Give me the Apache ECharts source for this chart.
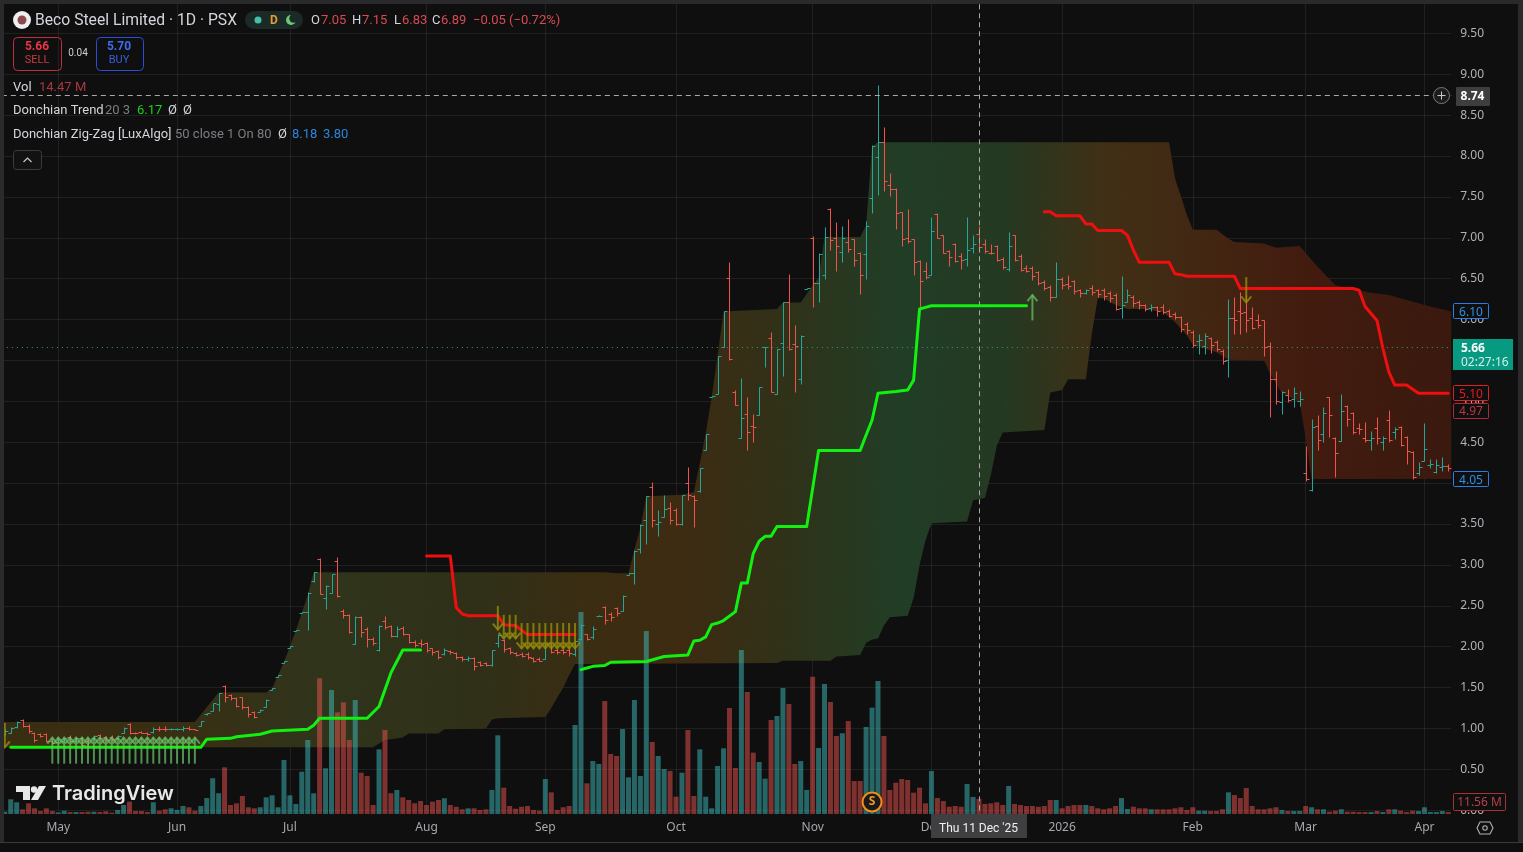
<!DOCTYPE html>
<html>
<head>
<meta charset="utf-8">
<title>Beco Steel Limited</title>
<style>
  html, body { margin: 0; padding: 0; background: #0f0f0f; }
  #chart { width: 1523px; height: 852px; }
</style>
<script src="https://cdn.jsdelivr.net/npm/echarts@6/dist/echarts.min.js"></script>
</head>
<body>
<div id="chart"></div>
<script>
// Daily OHLC of BECO (PSX), one entry per session.
const opens = [
  .93,.94,1.02,1.11,1.03,.94,.93,.93,.85,.83,
  .85,.90,.85,.88,.85,.88,.92,.90,.90,.88,
  .95,1.05,.95,.96,.95,.96,1.0,1.0,.99,.99,
  .99,1.01,.99,1.03,1.18,1.22,1.30,1.52,1.41,1.37,
  1.38,1.26,1.20,1.20,1.26,1.47,1.63,1.80,1.99,2.19,
  2.41,2.42,2.80,3.07,2.60,2.66,3.05,2.44,2.39,2.03,
  2.36,2.22,2.10,1.96,2.32,2.25,2.13,2.23,2.15,2.06,
  2.04,2.05,1.98,1.95,1.91,1.95,1.92,1.88,1.85,1.86,
  1.81,1.80,1.78,2.04,2.08,1.98,1.92,1.91,1.91,1.86,
  1.85,1.85,2.05,1.96,1.96,1.96,1.91,2.10,2.15,2.12,
  2.37,2.48,2.40,2.47,2.44,2.88,2.90,3.20,3.55,3.95,
  3.50,3.59,3.70,3.67,3.50,4.00,3.84,3.90,4.40,5.05,
  5.09,5.67,6.51,5.12,4.55,4.85,4.70,4.83,5.66,5.78,
  5.09,5.72,6.22,5.70,5.27,6.37,7.00,6.45,6.55,7.35,
  7.00,6.83,6.95,6.98,6.81,6.80,7.49,7.99,8.17,7.65,
  7.60,7.31,7.00,6.98,6.72,6.59,6.55,7.29,7.03,6.84,
  6.93,6.78,6.74,6.87,7.05,6.93,6.82,6.90,6.74,6.62,
  7.03,6.78,6.63,6.63,6.58,6.46,6.40,6.28,6.50,6.44,
  6.47,6.36,6.32,6.39,6.36,6.36,6.33,6.30,6.14,6.22,
  6.28,6.22,6.18,6.14,6.15,6.16,6.11,6.07,6.03,5.95,
  5.85,5.74,5.68,5.77,5.73,5.62,5.51,6.02,6.10,6.09,
  6.02,6.00,5.99,5.68,5.27,4.99,5.08,5.03,5.00,4.13,
  3.92,4.70,4.60,5.05,4.55,4.52,4.94,4.86,4.68,4.55,
  4.53,4.68,4.50,4.77,4.62,4.69,4.57,4.38,4.13,4.27,
  4.22,4.14,4.20,4.21
];
const highs = [
  1.0,1.02,1.09,1.12,1.05,.96,.94,.94,.86,.89,
  .89,.92,.89,.90,.87,.92,.93,.91,.92,.92,
  1.02,1.07,.96,.97,.96,1.02,1.03,1.03,1.01,1.01,
  1.03,1.03,1.0,1.09,1.19,1.31,1.44,1.53,1.42,1.38,
  1.39,1.27,1.22,1.24,1.36,1.50,1.65,1.83,2.01,2.21,
  2.43,2.67,2.92,3.08,2.75,2.89,3.10,2.46,2.40,2.37,
  2.37,2.24,2.12,2.26,2.38,2.27,2.25,2.25,2.16,2.08,
  2.09,2.06,1.99,1.96,1.98,1.96,1.93,1.89,1.89,1.87,
  1.82,1.81,1.96,2.16,2.10,2.00,1.93,1.93,1.93,1.87,
  1.87,2.04,2.06,1.99,1.98,1.98,2.08,2.28,2.16,2.25,
  2.39,2.50,2.42,2.48,2.63,2.90,3.18,3.50,3.84,4.02,
  3.67,3.85,3.77,3.70,3.86,4.20,3.85,4.18,4.60,5.07,
  5.56,6.11,6.70,5.14,5.29,5.05,4.85,5.18,5.67,5.85,
  5.64,6.22,6.56,5.93,5.81,6.39,7.02,6.81,7.13,7.36,
  7.19,7.15,7.23,6.99,6.83,7.21,8.13,8.87,8.36,7.79,
  7.61,7.32,7.35,6.99,6.73,6.70,7.25,7.30,7.04,6.85,
  6.94,6.81,7.25,7.04,7.15,6.98,6.93,6.91,6.76,7.07,
  7.04,6.80,6.67,6.65,6.60,6.48,6.42,6.71,6.52,6.55,
  6.49,6.38,6.38,6.42,6.38,6.39,6.35,6.32,6.53,6.37,
  6.30,6.24,6.19,6.19,6.17,6.19,6.13,6.09,6.05,5.97,
  5.87,5.83,5.84,5.79,5.75,5.64,6.25,6.28,6.34,6.30,
  6.16,6.07,6.00,5.73,5.37,5.13,5.15,5.18,5.13,4.45,
  4.79,4.83,4.93,5.05,4.56,5.09,4.96,4.87,4.74,4.75,
  4.64,4.81,4.58,4.89,4.69,4.70,4.58,4.39,4.26,4.73,
  4.30,4.30,4.32,4.24
];
const lows = [
  .92,.94,1.01,1.02,.94,.84,.90,.83,.81,.81,
  .83,.83,.83,.75,.76,.87,.88,.85,.85,.87,
  .94,.93,.93,.94,.92,.94,.97,.97,.98,.98,
  .97,.98,.98,1.03,1.17,1.22,1.22,1.32,1.35,1.26,
  1.24,1.14,1.13,1.20,1.26,1.47,1.63,1.80,1.99,2.19,
  2.41,2.20,2.79,2.65,2.46,2.66,2.61,2.35,2.17,2.03,
  2.12,2.00,2.02,1.95,2.22,2.12,2.12,2.14,2.04,2.00,
  2.00,1.93,1.90,1.85,1.90,1.91,1.85,1.83,1.83,1.72,
  1.76,1.77,1.77,2.00,1.93,1.91,1.89,1.87,1.85,1.81,
  1.82,1.85,1.92,1.91,1.91,1.89,1.89,2.08,2.08,2.10,
  2.37,2.28,2.32,2.38,2.44,2.88,2.77,3.15,3.26,3.46,
  3.36,3.59,3.50,3.49,3.49,3.79,3.47,3.89,4.40,5.05,
  5.09,5.67,5.51,4.95,4.55,4.40,4.50,4.83,5.42,5.12,
  5.09,5.31,5.63,5.12,5.21,6.37,6.15,6.22,6.50,6.85,
  6.60,6.71,6.83,6.65,6.31,6.50,7.30,7.52,7.57,7.51,
  7.11,6.90,6.94,6.55,6.15,6.50,6.55,7.00,6.81,6.65,
  6.71,6.62,6.66,6.81,6.83,6.81,6.80,6.72,6.62,6.60,
  6.72,6.59,6.58,6.49,6.42,6.36,6.23,6.28,6.38,6.38,
  6.31,6.28,6.31,6.30,6.28,6.24,6.22,6.12,6.02,6.22,
  6.15,6.13,6.10,6.11,6.05,6.07,6.03,6.01,5.85,5.83,
  5.67,5.58,5.58,5.59,5.62,5.46,5.30,5.82,5.82,5.85,
  5.88,5.90,5.56,4.81,4.97,4.85,4.99,4.93,4.94,4.03,
  3.91,4.41,4.50,4.57,4.08,4.52,4.70,4.60,4.60,4.50,
  4.41,4.48,4.41,4.50,4.54,4.46,4.24,4.05,4.10,4.27,
  4.19,4.12,4.15,4.15
];
const closes = [
  .97,1.01,1.08,1.03,.97,.86,.91,.85,.82,.87,
  .88,.85,.88,.80,.79,.91,.89,.86,.87,.91,
  1.01,.95,.94,.95,.93,1.00,.99,.99,1.00,1.00,
  1.01,.99,.985,1.09,1.19,1.31,1.43,1.38,1.37,1.28,
  1.26,1.18,1.14,1.23,1.35,1.50,1.65,1.83,2.01,2.21,
  2.43,2.66,2.92,2.65,2.74,2.89,2.62,2.39,2.18,2.36,
  2.18,2.10,2.05,2.25,2.24,2.13,2.22,2.16,2.06,2.02,
  2.03,1.96,1.93,1.88,1.96,1.93,1.87,1.85,1.86,1.76,
  1.78,1.78,1.96,2.14,1.97,1.93,1.90,1.89,1.87,1.83,
  1.83,2.03,1.93,1.93,1.93,1.92,2.07,2.27,2.10,2.22,
  2.38,2.33,2.36,2.41,2.62,2.90,3.17,3.49,3.84,3.55,
  3.53,3.69,3.55,3.50,3.85,3.85,3.79,4.18,4.60,5.07,
  5.56,6.11,5.52,4.96,4.80,4.62,4.69,5.17,5.67,5.12,
  5.64,6.21,5.64,5.68,5.80,6.39,6.45,6.80,7.01,6.97,
  6.90,7.00,6.86,6.73,6.55,7.14,8.12,8.17,7.69,7.60,
  7.30,6.98,6.96,6.70,6.47,6.52,7.08,7.00,6.82,6.76,
  6.72,6.73,6.85,6.93,6.89,6.84,6.81,6.73,6.64,6.90,
  6.73,6.61,6.59,6.53,6.45,6.39,6.28,6.50,6.42,6.41,
  6.35,6.33,6.36,6.34,6.31,6.29,6.27,6.13,6.18,6.30,
  6.20,6.18,6.13,6.16,6.10,6.09,6.05,6.03,5.88,5.87,
  5.69,5.75,5.80,5.69,5.64,5.49,6.02,6.00,6.08,6.00,
  5.90,5.93,5.67,5.27,5.01,5.12,5.02,5.10,5.03,4.05,
  4.69,4.53,4.86,4.83,4.37,4.88,4.79,4.63,4.66,4.53,
  4.55,4.55,4.55,4.53,4.66,4.47,4.39,4.07,4.20,4.42,
  4.24,4.22,4.21,4.19
];
// Session volume, millions of shares.
const volumes = [
  2.2,14.2,11.3,4.5,10.3,5.5,2.9,5.5,2.9,1.6,
  3.2,1.9,1.9,1.9,2.2,2.2,1.9,2.6,1.3,3.9,
  8.7,11.9,2.9,2.9,1.9,11.3,3.2,4.5,5.5,3.9,
  7.7,6.5,3.2,7.7,15.4,34.5,20,45,8.7,10.3,
  17.4,6.5,5.5,6.5,16.1,18,6.5,52.1,18,9.7,
  40.8,71.4,20,131,44.1,119.7,98.1,107.8,71.4,110,
  39.9,36.7,8.7,62.4,81.1,20,23.2,16.1,13.5,10.3,
  12.5,8.7,11.9,13.5,15.2,8.7,7,4.5,5.5,5.5,
  3.9,4.5,23.2,75.9,25.4,7.7,5.1,7,7.7,3.9,
  3.2,33.8,20.9,3.9,6.5,7.7,85.9,194.9,29.6,51.1,
  48.3,109,57.9,56,82,35.4,110,36.7,176.6,69.5,
  56,43.4,41.5,16.7,39.9,81.1,17.4,62.4,16.7,5.5,
  46.3,63.4,102.3,44.4,158.3,117.7,59.2,50.2,34.1,90.7,
  94.6,121.6,106.2,48.3,51.1,23.2,132.5,63.7,125.5,108.1,
  75.3,77.9,89.7,31.8,31.8,84,102.6,128.3,75.3,23.2,
  30.2,33.8,32.8,20.6,25.4,10.3,41.5,15.4,12.5,7,
  7.7,7,29,16.4,14.47,9.7,10.3,11.3,8.7,27,
  9.7,8.7,7.7,7.7,7,7.7,13.5,13.5,5.5,7.7,
  8.7,8.7,8.7,7.7,5.5,4.5,5.5,7.7,15.4,4.8,
  7,5.5,5.5,4.5,4.5,4.5,4.5,5.5,6.5,3.9,
  6.5,3.2,3.2,2.9,2.9,4.5,20.9,18.3,15.4,25.1,
  7.7,4.5,4.5,5.5,6.5,3.9,2.9,2.9,2.9,7.7,
  6.5,4.5,4.5,2.2,3.2,4.5,2.2,2.2,1.9,1.9,
  1.9,2.9,1.9,4.5,4.5,3.2,1.9,3.2,2.9,6.5,
  1.9,1.9,2.9,1.9
];

// Month ticks on the session axis.
const monthTickBars = [9, 29, 48, 71, 91, 113, 136, 156, 178, 200, 219, 239];
const monthTickLabels = ['May','Jun','Jul','Aug','Sep','Oct','Nov','Dec','2026','Feb','Mar','Apr'];

// Donchian zig-zag channel edges, [session, price] at each change of slope.
const channelUpper = [
  [0,1.08],[32,1.08],[34,1.26],[36,1.44],[44,1.44],[45,1.49],[47,1.81],[49,2.20],[51,2.63],[52,2.91],
  [101,2.91],[103,2.90],[105,2.90],[106,3.19],[107,3.45],[108,3.84],[114,3.86],[116,3.89],[117,4.24],
  [118,4.61],[119,5.05],[120,5.56],[121,6.10],[130,6.13],[131,6.21],[134,6.21],[136,6.42],[137,6.51],
  [138,7.01],[144,7.01],[145,7.15],[146,8.11],[147,8.17],[196,8.17],[197,7.73],[198,7.51],[199,7.28],
  [200,7.10],[204,7.10],[206,6.99],[207,6.95],[212,6.93],[214,6.88],[218,6.90],[220,6.73],[222,6.57],
  [224,6.42],[230,6.33],[233,6.30],[239,6.18],[243,6.10]
];
const channelLower = [
  [0,0.77],[62,0.77],[64,0.86],[67,0.89],[68,0.94],[73,0.94],[74,0.99],[81,1.00],[82,1.11],[83,1.125],
  [91,1.14],[92,1.25],[93,1.38],[94,1.50],[95,1.65],[96,1.79],[130,1.80],[131,1.83],[139,1.83],[140,1.88],
  [144,1.90],[145,2.05],[146,2.09],[147,2.10],[148,2.26],[149,2.36],[152,2.38],[153,2.60],[154,3.00],
  [155,3.30],[156,3.51],[162,3.53],[163,3.79],[165,3.82],[166,4.10],[167,4.46],[168,4.62],[175,4.65],
  [176,5.11],[178,5.14],[179,5.27],[182,5.27],[183,5.83],[184,6.26],[185,6.26],[187,6.18],[189,6.13],
  [192,6.13],[195,6.09],[197,5.97],[199,5.81],[200,5.69],[204,5.60],[206,5.51],[212,5.50],[213,5.34],
  [215,5.10],[218,4.99],[219,4.56],[220,4.05],[243,4.05]
];

// Donchian Trend stop line: two rising legs, two falling legs.
const trendUpFirst = [
  [1,.77],[33,.77],[34,.87],[38,.88],[39,.90],[43,.93],[45,.97],[51,.99],[52,1.04],[53,1.125],
  [61,1.125],[63,1.27],[65,1.68],[67,1.96],[70,1.96]
];
const trendUpSecond = [
  [97,1.72],[98,1.74],[99,1.76],[101,1.77],[102,1.81],[108,1.82],[111,1.88],[115,1.90],[116,2.07],
  [117,2.08],[118,2.12],[119,2.27],[120,2.29],[121,2.32],[123,2.43],[124,2.78],[125,2.78],[126,3.14],
  [127,3.29],[128,3.35],[129,3.35],[130,3.47],[135,3.47],[137,4.40],[144,4.40],[145,4.59],[146,4.77],
  [147,5.10],[150,5.12],[152,5.14],[153,5.26],[154,6.13],[155,6.15],[156,6.17],[172,6.17]
];
const trendDownFirst = [
  [71,3.11],[75,3.11],[76,2.48],[77,2.40],[78,2.38],[83,2.38],[84,2.27],[86,2.26],[87,2.20],[88,2.15],[96,2.15]
];
const trendDownSecond = [
  [175,7.32],[176,7.32],[177,7.27],[181,7.27],[182,7.17],[183,7.17],[184,7.09],[188,7.09],[189,7.03],
  [190,6.85],[191,6.70],[196,6.70],[197,6.56],[198,6.55],[199,6.53],[207,6.53],[208,6.38],[227,6.38],
  [228,6.36],[229,6.16],[231,5.99],[232,5.65],[233,5.36],[234,5.20],[236,5.20],[238,5.10],[243,5.10]
];

// Signal arrows: [session, tail price, tip price].
const buyArrows = [
  [8,.57,.89],[9,.57,.89],[10,.57,.89],[11,.57,.89],[12,.57,.89],[13,.57,.89],[14,.57,.89],[15,.57,.89],
  [16,.57,.89],[17,.57,.89],[18,.57,.89],[19,.57,.89],[20,.57,.89],[21,.57,.89],[22,.57,.89],[23,.57,.89],
  [24,.57,.89],[25,.57,.89],[26,.57,.89],[27,.57,.89],[28,.57,.89],[29,.57,.89],[30,.57,.89],[31,.57,.89],
  [32,.57,.89],[173,5.99,6.30]
];
const sellArrows = [
  [0,1.07,.77],[83,2.50,2.21],[84,2.39,2.10],[85,2.39,2.10],[86,2.39,2.10],[87,2.29,1.98],[88,2.29,1.98],
  [89,2.29,1.98],[90,2.29,1.98],[91,2.29,1.98],[92,2.29,1.98],[93,2.29,1.98],[94,2.29,1.98],[95,2.29,1.98],
  [96,2.29,1.98],[209,6.52,6.21]
];

// Levels shown on the price scale.
const channelTopLevel = 6.10;
const channelBottomLevel = 4.05;
const trendLevel = 5.10;
const stopLevel = 4.97;
const sellPrice = 5.66;
const crosshairPrice = 8.74;
const crosshairBar = 164;
const lastVolume = 11.56;
const splitBar = 146;

const BAR_UP = '#26a69a';
const BAR_DOWN = '#ef5350';
const FONT = '"Noto Sans", sans-serif';
const LEGEND_FONT = 'Roboto, sans-serif';
const PANEL = '#0f0f0f';

const categories = opens.map((_, i) => {
  const at = monthTickBars.indexOf(i);
  return at >= 0 ? monthTickLabels[at] : '';
});
const isMonthTick = (index) => monthTickBars.indexOf(index) >= 0;

const chart = echarts.init(document.getElementById('chart'), null, { renderer: 'canvas' });

// The channel is one polygon whose fill shifts colour along the time axis.
const channelFill = new echarts.graphic.LinearGradient(0, 0, 1452, 0, [
  { offset: 0.03, color: '#3d3012' }, { offset: 0.14, color: '#3a3214' },
  { offset: 0.22, color: '#32371c' }, { offset: 0.33, color: '#323219' },
  { offset: 0.41, color: '#3e2f12' }, { offset: 0.47, color: '#412d12' },
  { offset: 0.54, color: '#323419' }, { offset: 0.62, color: '#234128' },
  { offset: 0.69, color: '#263c23' }, { offset: 0.76, color: '#443216' },
  { offset: 0.83, color: '#462812' }, { offset: 0.90, color: '#461c0f' },
  { offset: 1, color: '#3e1a0e' }
], true);

function renderChannel(params, api) {
  if (params.dataIndex !== 0) return null;
  const halfBar = api.size([1, 0])[0] / 2;
  const top = channelUpper.map(p => api.coord(p));
  const bottom = channelLower.map(p => api.coord(p)).reverse();
  top[0][0] -= halfBar;
  top[top.length - 1][0] += halfBar;
  bottom[0][0] += halfBar;
  bottom[bottom.length - 1][0] -= halfBar;
  return {
    type: 'polygon',
    shape: { points: top.concat(bottom) },
    style: { fill: channelFill, opacity: 0.93 }
  };
}

function renderOhlc(params, api) {
  const i = params.dataIndex;
  const open = api.value(1), high = api.value(2), low = api.value(3), close = api.value(4);
  const x = Math.round(api.coord([i, open])[0]) + 0.5;
  const color = close >= open ? BAR_UP : BAR_DOWN;
  const y = v => Math.round(api.coord([i, v])[1]) + 0.5;
  const stroke = { stroke: color, lineWidth: 1 };
  return {
    type: 'group',
    children: [
      { type: 'line', shape: { x1: x, y1: y(high), x2: x, y2: y(low) }, style: stroke },
      { type: 'line', shape: { x1: x - 3, y1: y(open), x2: x, y2: y(open) }, style: stroke },
      { type: 'line', shape: { x1: x, y1: y(close), x2: x + 3, y2: y(close) }, style: stroke }
    ]
  };
}

function arrowRenderer(color) {
  return function (params, api) {
    const i = api.value(0);
    const tail = api.coord([i, api.value(1)]);
    const tip = api.coord([i, api.value(2)]);
    const dir = tip[1] < tail[1] ? 1 : -1;
    const stroke = { stroke: color, lineWidth: 2, fill: 'none' };
    return {
      type: 'group',
      children: [
        { type: 'line', shape: { x1: tip[0], y1: tail[1], x2: tip[0], y2: tip[1] }, style: stroke },
        { type: 'polyline', shape: { points: [[tip[0] - 5, tip[1] + dir * 6], [tip[0], tip[1]], [tip[0] + 5, tip[1] + dir * 6]] }, style: stroke }
      ]
    };
  };
}

// Boxed tags to the right of the plot, anchored on the price scale.
const levelTags = [
  { value: channelTopLevel, fill: PANEL, border: '#2a7de1', color: '#2f8fe8', shift: 0 },
  { value: channelBottomLevel, fill: PANEL, border: '#2a7de1', color: '#2f8fe8', shift: 0 },
  { value: trendLevel, fill: PANEL, border: '#e02020', color: '#f01818', shift: 0 },
  { value: stopLevel, fill: PANEL, border: '#b02a35', color: '#b83840', shift: 7 }
];
function renderLevelTag(params, api) {
  const tag = levelTags[params.dataIndex];
  const p = api.coord([243, tag.value]);
  const cy = p[1] + tag.shift;
  return {
    type: 'group',
    children: [
      { type: 'rect', shape: { x: 1453.5, y: Math.round(cy - 8) + .5, width: 35, height: 15, r: 1 },
        style: { fill: tag.fill, stroke: tag.border, lineWidth: 1 } },
      { type: 'text', x: 1471, y: cy + 1, style: { text: tag.value.toFixed(2), fill: tag.color,
        font: '12px ' + FONT, textAlign: 'center', textVerticalAlign: 'middle' } }
    ]
  };
}
function renderSellTag(params, api) {
  const cy = api.coord([243, sellPrice])[1];
  return {
    type: 'group',
    children: [
      { type: 'rect', shape: { x: 1453, y: Math.round(cy) - 8, width: 60, height: 31 }, style: { fill: '#089981' } },
      { type: 'text', x: 1461, y: cy + 1, style: { text: sellPrice.toFixed(2), fill: '#ffffff',
        font: '700 12px ' + FONT, textVerticalAlign: 'middle' } },
      { type: 'text', x: 1461, y: cy + 15, style: { text: '02:27:16', fill: '#d4efe9',
        font: '12px ' + FONT, textVerticalAlign: 'middle' } }
    ]
  };
}
function renderCrosshairTag(params, api) {
  const cy = api.coord([243, crosshairPrice])[1];
  return {
    type: 'group',
    children: [
      { type: 'circle', shape: { cx: 1441.5, cy: cy, r: 8 }, style: { fill: '#1c1c1c', stroke: '#7a7a7a', lineWidth: 1 } },
      { type: 'line', shape: { x1: 1437.5, y1: cy, x2: 1445.5, y2: cy }, style: { stroke: '#cfcfcf', lineWidth: 1 } },
      { type: 'line', shape: { x1: 1441.5, y1: cy - 4, x2: 1441.5, y2: cy + 4 }, style: { stroke: '#cfcfcf', lineWidth: 1 } },
      { type: 'rect', shape: { x: 1456, y: Math.round(cy) - 9, width: 34, height: 19, r: 1 }, style: { fill: '#3e3e3e' } },
      { type: 'text', x: 1472.5, y: cy + 1, style: { text: crosshairPrice.toFixed(2), fill: '#ffffff',
        font: '700 12px ' + FONT, textAlign: 'center', textVerticalAlign: 'middle' } }
    ]
  };
}
function renderVolumeTag(params, api) {
  const cy = api.coord([243, lastVolume])[1];
  return {
    type: 'group',
    children: [
      { type: 'rect', shape: { x: 1453.5, y: Math.round(cy) - 8.5, width: 52, height: 17, r: 1 },
        style: { fill: PANEL, stroke: '#a83238', lineWidth: 1 } },
      { type: 'text', x: 1479.5, y: cy + 1, style: { text: lastVolume.toFixed(2) + ' M', fill: '#b8404a',
        font: '12px ' + FONT, textAlign: 'center', textVerticalAlign: 'middle' } }
    ]
  };
}
function renderSplitMark(params, api) {
  const p = api.coord([api.value(0), api.value(1)]);
  return {
    type: 'group',
    children: [
      { type: 'circle', shape: { cx: p[0], cy: p[1], r: 9.5 }, style: { fill: '#1a1a1a', stroke: '#ef8f17', lineWidth: 2 } },
      { type: 'text', x: p[0], y: p[1], style: { text: 'S', fill: '#ef9a20', font: '700 12px ' + FONT,
        textAlign: 'center', textVerticalAlign: 'middle' } }
    ]
  };
}

const trendLine = (name, data, color) => ({
  name, type: 'line', data, xAxisIndex: 0, yAxisIndex: 0, z: 6,
  showSymbol: false, silent: true,
  lineStyle: { color, width: 3, cap: 'round', join: 'round' }
});

const txt = (x, y, text, fill, font, align) => ({
  type: 'text', x, y, z: 100, silent: true,
  style: { text, fill, font: font || ('13px ' + LEGEND_FONT), textAlign: align || 'left', textVerticalAlign: 'middle' }
});
const box = (x, y, w, h, r, stroke, fill) => ({
  type: 'rect', z: 100, silent: true,
  shape: { x: x + .5, y: y + .5, width: w, height: h, r },
  style: { fill: fill || 'none', stroke: stroke, lineWidth: 1 }
});
const block = (x, y, w, h, fill) => ({
  type: 'rect', z: 99, silent: true, shape: { x, y, width: w, height: h }, style: { fill }
});

const overlay = [
  // Window frame
  block(0, 0, 1523, 4, '#2a2a2c'), block(0, 0, 4, 842, '#2a2a2c'), block(1518, 0, 5, 842, '#2a2a2c'),
  block(0, 842, 1523, 1, '#3a3a3c'),
  // Symbol header
  { type: 'circle', z: 100, silent: true, shape: { cx: 22, cy: 20, r: 9 }, style: { fill: '#f0eeee' } },
  { type: 'circle', z: 101, silent: true, shape: { cx: 22, cy: 20, r: 4.5 }, style: { fill: '#8a4a50' } },
  txt(35, 21, 'Beco Steel Limited · 1D · PSX', '#d4d6dc', '15.7px ' + LEGEND_FONT),
  { type: 'rect', z: 100, silent: true, shape: { x: 245, y: 11, width: 58, height: 18, r: 9 }, style: { fill: '#1b2a27' } },
  { type: 'circle', z: 101, silent: true, shape: { cx: 258, cy: 20, r: 3.5 }, style: { fill: '#45bfa8' } },
  txt(274, 21, 'D', '#e0a030', '700 12px ' + LEGEND_FONT, 'center'),
  { type: 'circle', z: 101, silent: true, shape: { cx: 291, cy: 20, r: 5 }, style: { fill: '#6fc870' } },
  { type: 'circle', z: 102, silent: true, shape: { cx: 293.5, cy: 18.5, r: 4.2 }, style: { fill: '#1b2a27' } },
  txt(311, 21, 'O', '#d4d6dc'), txt(321, 21, '7.05', '#d94a52'),
  txt(352, 21, 'H', '#d4d6dc'), txt(362, 21, '7.15', '#d94a52'),
  txt(394, 21, 'L', '#d4d6dc'), txt(402, 21, '6.83', '#d94a52'),
  txt(432, 21, 'C', '#d4d6dc'), txt(441, 21, '6.89', '#d94a52'),
  txt(473, 21, '−0.05 (−0.72%)', '#d94a52'),
  // Quote buttons
  box(13, 37, 48, 33, 4, '#c0303c'),
  txt(37, 46.5, '5.66', '#ee3344', '700 12px ' + LEGEND_FONT, 'center'),
  txt(37, 60.5, 'SELL', '#c93a44', '11px ' + LEGEND_FONT, 'center'),
  txt(78, 53.5, '0.04', '#cfd1d6', '10px ' + LEGEND_FONT, 'center'),
  box(96, 37, 47, 33, 4, '#2a4fd6'),
  txt(119, 46.5, '5.70', '#3f6cf0', '700 12px ' + LEGEND_FONT, 'center'),
  txt(119, 60.5, 'BUY', '#3560d8', '11px ' + LEGEND_FONT, 'center'),
  // Study legend
  txt(13, 88, 'Vol', '#d4d6dc'), txt(39, 88, '14.47 M', '#a8383e'),
  txt(13, 111, 'Donchian Trend', '#d4d6dc'), txt(105, 111, '20 3', '#7c7e84'),
  txt(137, 111, '6.17', '#19d219'), txt(168, 111, 'Ø', '#d4d6dc'), txt(183, 111, 'Ø', '#d4d6dc'),
  txt(13, 135, 'Donchian Zig-Zag [LuxAlgo]', '#d4d6dc'), txt(175, 135, '50 close 1 On 80', '#7c7e84'),
  txt(278, 135, 'Ø', '#d4d6dc'), txt(292, 135, '8.18', '#2b86d9'), txt(323, 135, '3.80', '#2b86d9'),
  box(13, 150, 28, 19, 3, '#3c3c3e', '#121212'),
  { type: 'polyline', z: 101, silent: true, shape: { points: [[23.5, 162], [27.5, 158], [31.5, 162]] },
    style: { stroke: '#c8c8c8', lineWidth: 1.2, fill: 'none' } },
  // Watermark
  { type: 'polygon', z: 100, silent: true, shape: { points: [[16, 786], [30, 786], [30, 800], [23, 800], [23, 792], [16, 792]] }, style: { fill: '#e8e8e8' } },
  { type: 'circle', z: 100, silent: true, shape: { cx: 34, cy: 789.5, r: 3.2 }, style: { fill: '#e8e8e8' } },
  { type: 'polygon', z: 100, silent: true, shape: { points: [[39, 786], [46, 786], [38, 800], [31, 800]] }, style: { fill: '#e8e8e8' } },
  txt(52, 794, 'TradingView', '#e8e8e8', '600 20px Inter, ' + LEGEND_FONT),
  // Date under the crosshair
  { type: 'rect', z: 100, silent: true, shape: { x: 931, y: 814, width: 96, height: 24 }, style: { fill: '#3f3f41' } },
  txt(978.5, 829, "Thu 11 Dec '25", '#f0f0f0', '12px ' + LEGEND_FONT, 'center'),
  // Axis settings icon
  { type: 'polygon', z: 100, silent: true, shape: { points: [[1480, 822], [1490, 822], [1493, 828], [1490, 834], [1480, 834], [1477, 828]] },
    style: { fill: 'none', stroke: '#b0b2b8', lineWidth: 1.1 } },
  { type: 'circle', z: 100, silent: true, shape: { cx: 1485, cy: 828, r: 2.2 }, style: { fill: 'none', stroke: '#b0b2b8', lineWidth: 1.1 } }
];

const gridLine = 'rgba(255,255,255,0.075)';
const crosshairLine = { color: '#a8a8a8', width: 1, type: [5, 4] };

chart.setOption({
  animation: false,
  backgroundColor: PANEL,
  grid: [
    { left: 1.83, width: 1449.36, top: -7.5, height: 817.8, outerBoundsMode: 'none' },
    { left: 1.83, width: 1449.36, top: 503.1, height: 310.9, outerBoundsMode: 'none' }
  ],
  xAxis: [
    {
      gridIndex: 0, type: 'category', data: categories, boundaryGap: true,
      axisLine: { show: false }, axisTick: { show: false }, axisLabel: { show: false },
      splitLine: { show: true, alignWithLabel: true, interval: isMonthTick, lineStyle: { color: gridLine, width: 1 } }
    },
    {
      gridIndex: 1, type: 'category', data: categories, boundaryGap: true,
      axisLine: { show: false }, axisTick: { show: false },
      axisLabel: { interval: isMonthTick, color: '#a6a8ae', fontFamily: FONT, fontSize: 12, margin: 8 },
      splitLine: { show: false }
    }
  ],
  yAxis: [
    {
      gridIndex: 0, type: 'value', position: 'right', min: 0, max: 10, interval: 0.5,
      axisLine: { show: false }, axisTick: { show: false },
      axisLabel: { color: '#b0b2b8', fontFamily: FONT, fontSize: 12, margin: 9, padding: [2, 0, 0, 0], formatter: v => v.toFixed(2) },
      splitLine: { show: true, lineStyle: { color: gridLine, width: 1 } }
    },
    {
      gridIndex: 1, type: 'value', min: 0, max: 300,
      axisLine: { show: false }, axisTick: { show: false }, axisLabel: { show: false }, splitLine: { show: false }
    }
  ],
  graphic: { elements: overlay },
  series: [
    {
      name: 'Donchian Zig-Zag', type: 'custom', renderItem: renderChannel, z: 1, silent: true,
      xAxisIndex: 0, yAxisIndex: 0, data: [[0, channelUpper[0][1]]], clip: false
    },
    {
      name: 'Vol', type: 'bar', xAxisIndex: 1, yAxisIndex: 1, data: volumes, barWidth: 5, z: 2, silent: true,
      itemStyle: { color: p => closes[p.dataIndex] >= opens[p.dataIndex] ? 'rgba(64,190,190,0.5)' : 'rgba(239,83,80,0.5)' }
    },
    {
      name: 'Price', type: 'custom', renderItem: renderOhlc, z: 4, silent: true,
      xAxisIndex: 0, yAxisIndex: 0, encode: { x: 0, y: [1, 2, 3, 4] },
      data: opens.map((o, i) => [i, o, highs[i], lows[i], closes[i]]),
      markLine: {
        silent: true, symbol: 'none', animation: false, label: { show: false }, lineStyle: crosshairLine,
        data: [
          { xAxis: crosshairBar },
          { yAxis: crosshairPrice },
          { yAxis: sellPrice, lineStyle: { color: '#2f9e84', width: 1, type: [1, 4] } }
        ]
      }
    },
    trendLine('Trend up', trendUpFirst, '#12f012'),
    trendLine('Trend up late', trendUpSecond, '#12f012'),
    trendLine('Trend down', trendDownFirst, '#f00f0f'),
    trendLine('Trend down late', trendDownSecond, '#f00f0f'),
    {
      name: 'Long signal', type: 'custom', renderItem: arrowRenderer('rgba(105,195,105,0.72)'), z: 7, silent: true,
      xAxisIndex: 0, yAxisIndex: 0, data: buyArrows, encode: { x: 0, y: [1, 2] }
    },
    {
      name: 'Short signal', type: 'custom', renderItem: arrowRenderer('rgba(150,140,10,0.8)'), z: 7, silent: true,
      xAxisIndex: 0, yAxisIndex: 0, data: sellArrows, encode: { x: 0, y: [1, 2] }
    },
    {
      name: 'Levels', type: 'custom', renderItem: renderLevelTag, z: 20, silent: true, clip: false,
      xAxisIndex: 0, yAxisIndex: 0, data: levelTags.map(t => [243, t.value]), encode: { x: 0, y: 1 }
    },
    {
      name: 'Sell quote', type: 'custom', renderItem: renderSellTag,
      z: 20, silent: true, xAxisIndex: 0, yAxisIndex: 0, data: [[243, sellPrice]], encode: { x: 0, y: 1 }
    },
    {
      name: 'Crosshair price', type: 'custom', renderItem: renderCrosshairTag,
      z: 20, silent: true, xAxisIndex: 0, yAxisIndex: 0, data: [[243, crosshairPrice]], encode: { x: 0, y: 1 }
    },
    {
      name: 'Volume tag', type: 'custom', renderItem: renderVolumeTag,
      z: 20, silent: true, xAxisIndex: 1, yAxisIndex: 1, data: [[243, lastVolume]], encode: { x: 0, y: 1 }
    },
    {
      name: 'Split', type: 'custom', renderItem: renderSplitMark, z: 20, silent: true,
      xAxisIndex: 1, yAxisIndex: 1, data: [[splitBar, lastVolume]], encode: { x: 0, y: 1 }
    }
  ]
});
</script>
</body>
</html>
